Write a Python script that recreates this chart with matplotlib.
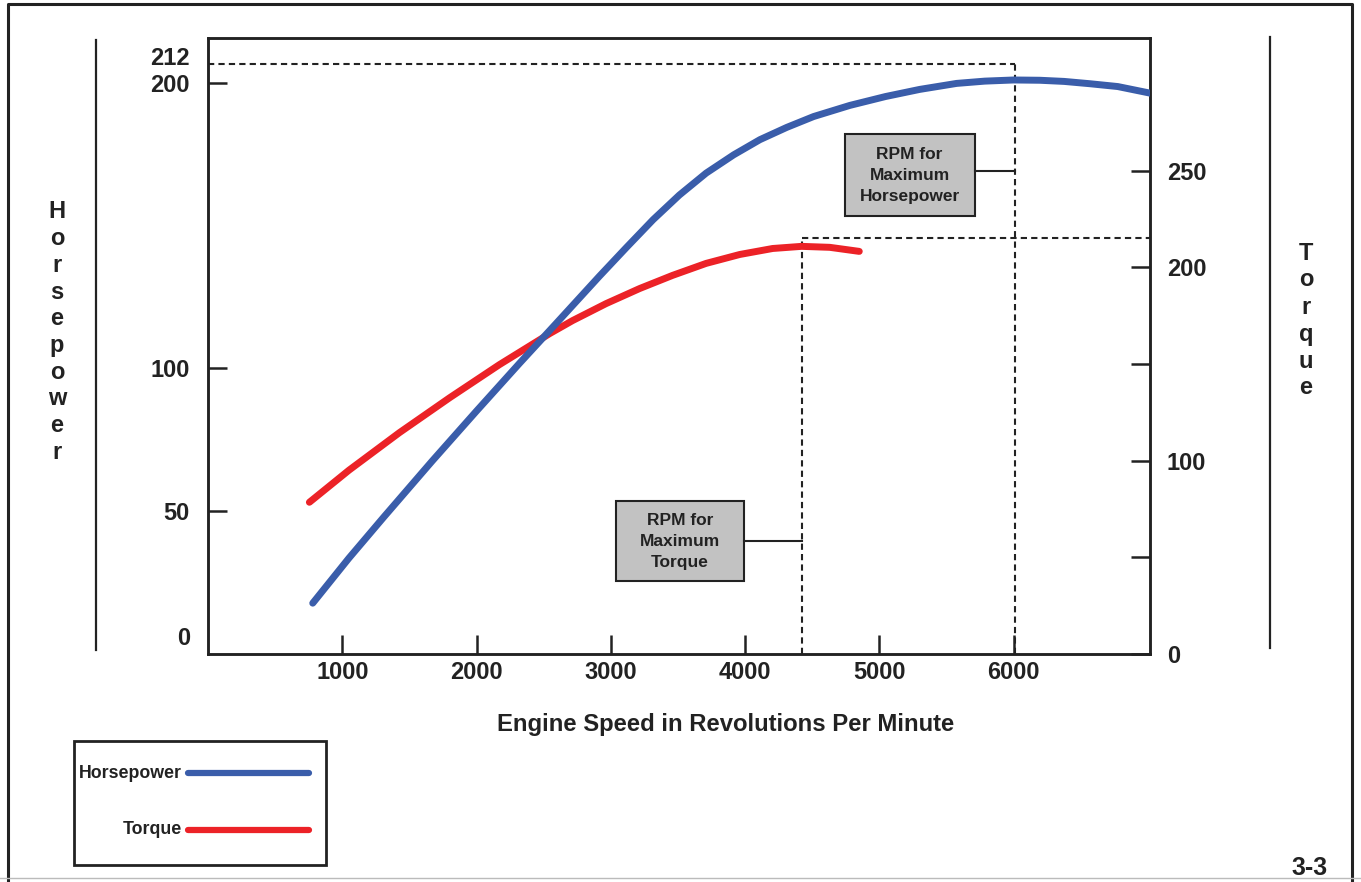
import numpy as np
import matplotlib
matplotlib.use("Agg")
import matplotlib.pyplot as plt
from matplotlib.lines import Line2D
from matplotlib.patches import Rectangle

plt.rcParams['font.family'] = ['Liberation Sans', 'DejaVu Sans']
plt.rcParams['font.weight'] = 'bold'

# horsepower curve
hp_rpm = [780, 1050, 1310, 1670, 2000, 2320, 2590, 2915, 3115, 3315,
          3510, 3710, 3915, 4110, 4310, 4510, 4780, 5045, 5300, 5575,
          5785, 6000, 6195, 6375, 6565, 6775, 7015]
hp = [17.8, 33.6, 48, 67.6, 85.1, 101.8, 115.6, 132.3, 142.3, 152.1,
      160.7, 168.4, 174.8, 180.1, 184.4, 188.2, 192.1, 195.2, 197.7, 199.8,
      200.6, 201, 200.9, 200.5, 199.7, 198.7, 196.4]

# torque curve
tq_rpm = [755, 1050, 1425, 1800, 2170, 2545, 2715, 2965, 3215, 3460,
          3710, 3960, 4205, 4420, 4630, 4850]
torque = [78.5, 95.1, 114.5, 132.6, 149.7, 165.8, 172.5, 181.3, 189.1, 195.9,
          202.1, 206.7, 209.8, 210.9, 210.4, 208.3]

# reference marks
hp_max_rpm, hp_max_level = 6010, 206.5
tq_max_rpm, tq_max_level = 4420, 215

x_ticks = [1000, 2000, 3000, 4000, 5000, 6000]
hp_ticks = [50, 100, 200]
hp_extra_ticks = [6.3, 209.5]
hp_extra_labels = ['0', '212']
tq_ticks = [0, 50, 100, 150, 200, 250]
tq_labels = ['0', '', '100', '', '200', '250']

BLUE = '#3a5daa'
RED = '#ec2227'
INK = '#222222'

W, H = 1361, 882


def fx(x):
    return x / W


def fy(y):
    return 1 - y / H


fig = plt.figure(figsize=(W / 100, H / 100), dpi=100)

ax = fig.add_axes([fx(208), fy(654), (1150 - 208) / W, (654 - 38) / H])
ax2 = ax.twinx()
ax.set_zorder(ax2.get_zorder() + 1)
ax.patch.set_visible(False)

ax.set_xlim(0, 7015)
ax.set_ylim(0, 215.7)
ax2.set_ylim(0, 318.7)

for a in (ax, ax2):
    for s in a.spines.values():
        s.set_linewidth(1.8)
        s.set_color(INK)

# curves
ax.plot(hp_rpm, hp, color=BLUE, lw=5, solid_capstyle='round',
        solid_joinstyle='round', zorder=5)
ax2.plot(tq_rpm, torque, color=RED, lw=5, solid_capstyle='round',
         solid_joinstyle='round', zorder=5)

# dashed guides
dash = dict(color=INK, lw=1.5, linestyle=(0, (3, 2)), zorder=3)
ax.plot([0, hp_max_rpm], [hp_max_level, hp_max_level], **dash)
ax.plot([hp_max_rpm, hp_max_rpm], [0, hp_max_level], **dash)
ax2.plot([tq_max_rpm, 7015], [tq_max_level, tq_max_level], **dash)
ax2.plot([tq_max_rpm, tq_max_rpm], [0, tq_max_level], **dash)

# callout boxes
ax.add_patch(Rectangle((4740, 153.5), 970, 28.5, facecolor='#c2c2c2',
                       edgecolor=INK, lw=1.5, zorder=4))
ax.text(5225, 167.5, 'RPM for\nMaximum\nHorsepower', ha='center', va='center',
        fontsize=12.5, linespacing=1.5, color=INK, zorder=6)
ax.plot([5710, hp_max_rpm], [169, 169], color=INK, lw=1.5, zorder=4)

ax.add_patch(Rectangle((3035, 25.5), 960, 28, facecolor='#c2c2c2',
                       edgecolor=INK, lw=1.5, zorder=4))
ax.text(3515, 39.3, 'RPM for\nMaximum\nTorque', ha='center', va='center',
        fontsize=12.5, linespacing=1.5, color=INK, zorder=6)
ax.plot([3995, tq_max_rpm], [39.5, 39.5], color=INK, lw=1.5, zorder=4)

# ticks
ax.set_xticks(x_ticks)
ax.set_xticklabels([str(t) for t in x_ticks])
ax.tick_params(axis='x', direction='in', length=14, width=1.8, color=INK,
               labelsize=17, pad=5, labelcolor=INK)
ax.set_yticks(hp_ticks)
ax.set_yticklabels([str(t) for t in hp_ticks])
ax.set_yticks(hp_extra_ticks, minor=True)
ax.set_yticklabels(hp_extra_labels, minor=True)
ax.tick_params(axis='y', which='major', direction='in', length=14, width=1.8,
               color=INK, labelsize=17, pad=13, labelcolor=INK)
ax.tick_params(axis='y', which='minor', length=0, labelsize=17, pad=13,
               labelcolor=INK)
ax2.set_yticks(tq_ticks)
ax2.set_yticklabels(tq_labels)
ax2.tick_params(axis='y', direction='in', length=14, width=1.8, color=INK,
                labelsize=17, pad=12, labelcolor=INK)

fig.text(fx(726), fy(725), 'Engine Speed in Revolutions Per Minute',
         ha='center', va='center', fontsize=17.2, color=INK)

# stacked axis titles
for i, ch in enumerate('Horsepower'):
    fig.text(fx(57), fy(212 + i * 26.7), ch, ha='center', va='center',
             fontsize=17, color=INK)
for i, ch in enumerate('Torque'):
    fig.text(fx(1306), fy(253 + i * 27), ch, ha='center', va='center',
             fontsize=17, color=INK)

# side rules
fig.add_artist(Line2D([fx(96), fx(96)], [fy(40), fy(650)], color=INK, lw=1.6))
fig.add_artist(Line2D([fx(1270), fx(1270)], [fy(37), fy(648)], color=INK, lw=1.6))

# outer frame
fig.add_artist(Line2D([fx(8), fx(8), fx(1352), fx(1352)],
                      [fy(882), fy(4), fy(4), fy(882)], color=INK, lw=2.2))
fig.add_artist(Line2D([0, 1], [fy(878), fy(878)], color='#bbbbbb', lw=1))

# legend
fig.add_artist(Rectangle((fx(74), fy(865)), (326 - 74) / W, (865 - 741) / H,
                         fill=False, edgecolor=INK, lw=2))
fig.add_artist(Line2D([fx(188), fx(309)], [fy(773), fy(773)], color=BLUE,
                      lw=4.5, solid_capstyle='round'))
fig.add_artist(Line2D([fx(188), fx(309)], [fy(830), fy(830)], color=RED,
                      lw=4.5, solid_capstyle='round'))
fig.text(fx(182), fy(773), 'Horsepower', ha='right', va='center',
         fontsize=12.8, color=INK)
fig.text(fx(182), fy(830), 'Torque', ha='right', va='center',
         fontsize=12.8, color=INK)

fig.text(fx(1310), fy(868), '3-3', ha='center', va='center', fontsize=18,
         color=INK)

fig.savefig('out.png', dpi=100, facecolor='white')
